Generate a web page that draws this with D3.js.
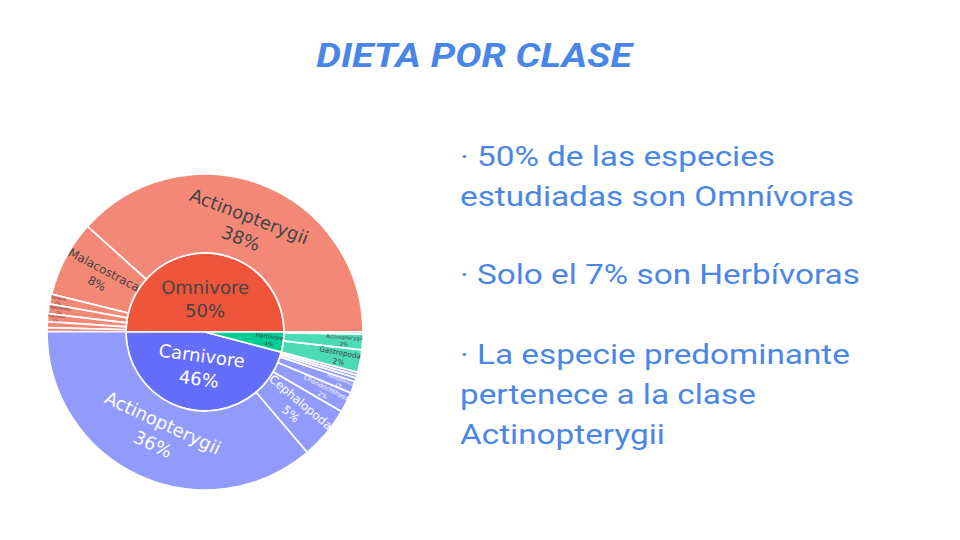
<!DOCTYPE html>
<html>
<head>
<meta charset="utf-8">
<script src="https://cdn.jsdelivr.net/npm/d3@7"></script>
<style>
  html, body { margin: 0; padding: 0; background: #fff; }
  svg { display: block; }
</style>
</head>
<body>
<svg id="chart" width="960" height="540"></svg>
<script>
// ---------- DATA ----------
const titleText = "DIETA POR CLASE";
const dietCategories = ["Omnivore", "Carnivore", "Herbivore"];
const dietColors = ["#EF553B", "#636EFA", "#00CC96"];

const omnivoreClasses = ["Actinopterygii", "Malacostraca", "Bivalvia", "Gastropoda", "Polychaeta", "Cephalopoda", "Insecta"];
const omnivoreValues  = [38.4, 7.8, 1.0, 1.0, 0.8, 0.6, 0.4];

const carnivoreClasses = ["Actinopterygii", "Cephalopoda", "Chondrichthyes", "Malacostraca", "Aves", "Mammalia", "Reptilia"];
const carnivoreValues  = [36.3, 5.4, 2.1, 1.2, 0.4, 0.3, 0.3];

const herbivoreClasses = ["Gastropoda", "Actinopterygii", "Malacostraca"];
const herbivoreValues  = [2.3, 1.6, 0.2];

const bulletLines = [
  ["· 50% de las especies", "estudiadas son Omnívoras"],
  ["· Solo el 7% son Herbívoras"],
  ["· La especie predominante", "pertenece a la clase", "Actinopterygii"]
];

// ---------- BUILD HIERARCHY ----------
const childClasses = [omnivoreClasses, carnivoreClasses, herbivoreClasses];
const childValues = [omnivoreValues, carnivoreValues, herbivoreValues];
const treeData = {
  name: "root",
  children: dietCategories.map((c, i) => ({
    name: c,
    colorIndex: i,
    children: childClasses[i].map((k, j) => ({ name: k, value: childValues[i][j] }))
  }))
};

const svg = d3.select("#chart");
const cx = 205, cy = 332;
const outerR = 158;

const root = d3.hierarchy(treeData).sum(d => d.value || 0);
const total = root.value;
d3.partition().size([1, 3])(root);

// angle: counterclockwise starting at 3 o'clock (d3 angles are clockwise from 12)
const angle = d3.scaleLinear().domain([0, 1]).range([Math.PI / 2, Math.PI / 2 - 2 * Math.PI]);
const radius = d3.scaleLinear().domain([1, 3]).range([0, outerR]);

function baseColor(d) {
  const top = d.depth === 1 ? d : d.parent;
  return dietColors[top.data.colorIndex];
}
function fillColor(d) {
  const c = d3.rgb(baseColor(d));
  if (d.depth === 1) return c.formatHex();
  const mix = v => Math.round(0.7 * v + 0.3 * 255);
  return d3.rgb(mix(c.r), mix(c.g), mix(c.b)).formatHex();
}
function textColor(d) {
  const c = d3.rgb(baseColor(d));
  const b = (c.r * 299 + c.g * 587 + c.b * 114) / 1000;
  return b >= 128 ? "#444" : "#ffffff";
}

const arc = d3.arc()
  .startAngle(d => angle(d.x0))
  .endAngle(d => angle(d.x1))
  .innerRadius(d => radius(d.y0))
  .outerRadius(d => radius(d.y1));

const nodes = root.descendants().filter(d => d.depth > 0);

const g = svg.append("g").attr("transform", `translate(${cx},${cy})`);
g.selectAll("path.sector")
  .data(nodes)
  .join("path")
  .attr("class", "sector")
  .attr("d", arc)
  .attr("fill", fillColor)
  .attr("stroke", "#ffffff")
  .attr("stroke-width", 1.7);

// ---------- LABELS (fit inside sectors) ----------
const labelFont = "DejaVu Sans";
const maxFont = 18;
const hFactor = 2.3;

const meas = svg.append("text").attr("font-family", labelFont).attr("font-size", maxFont).attr("visibility", "hidden");
function measure(str) {
  meas.text(str);
  return meas.node().getComputedTextLength();
}

function fitSize(orient, wBase, r0, r1, da) {
  function test(fs) {
    const w = wBase * fs / maxFont;
    const h = hFactor * fs;
    let along, across;
    if (orient === "tan") { along = h; across = w; } else { along = w; across = h; }
    let rcMin = r0 + along / 2;
    if (da < Math.PI) rcMin = Math.max(rcMin, along / 2 + (across / 2) / Math.tan(da / 2));
    if (r1 * r1 < (across / 2) * (across / 2)) return null;
    const rcMax = Math.sqrt(r1 * r1 - (across / 2) * (across / 2)) - along / 2;
    if (rcMin > rcMax) return null;
    return (rcMin + rcMax) / 2;
  }
  if (test(maxFont) !== null) return { fs: maxFont, rc: test(maxFont) };
  let lo = 0, hi = maxFont;
  for (let i = 0; i < 30; i++) {
    const mid = (lo + hi) / 2;
    if (test(mid) !== null) lo = mid; else hi = mid;
  }
  if (lo < 0.5) return { fs: 0, rc: 0 };
  return { fs: lo, rc: test(lo) };
}

function norm(a) {
  while (a > 90) a -= 180;
  while (a <= -90) a += 180;
  return a;
}

const labels = [];
nodes.forEach(d => {
  const pct = Math.round(d.value / total * 100) + "%";
  const lines = [d.data.name, pct];
  const wBase = Math.max(...lines.map(measure));
  const r0 = radius(d.y0), r1 = radius(d.y1);
  const a0 = angle(d.x0), a1 = angle(d.x1);
  const da = Math.abs(a1 - a0);
  const mid = (a0 + a1) / 2;
  const theta = 90 - mid * 180 / Math.PI;
  const t = fitSize("tan", wBase, r0, r1, da);
  const r = fitSize("rad", wBase, r0, r1, da);
  let best, rot;
  if (t.fs >= r.fs) { best = t; rot = norm(90 - theta); }
  else { best = r; rot = norm(-theta); }
  if (best.fs < 3) return;
  const th = theta * Math.PI / 180;
  labels.push({
    lines, fs: best.fs, rot,
    x: best.rc * Math.cos(th), y: -best.rc * Math.sin(th),
    color: textColor(d)
  });
});
meas.remove();

const lg = g.selectAll("text.lbl")
  .data(labels)
  .join("text")
  .attr("class", "lbl")
  .attr("font-family", labelFont)
  .attr("font-size", d => d.fs)
  .attr("fill", d => d.color)
  .attr("text-anchor", "middle")
  .attr("transform", d => `translate(${d.x},${d.y}) rotate(${d.rot})`);
lg.selectAll("tspan")
  .data(d => d.lines.map((l, i) => ({ l, i })))
  .join("tspan")
  .attr("x", 0)
  .attr("y", d => d.i === 0 ? "-0.3em" : "1.0em")
  .text(d => d.l);

// ---------- TITLE ----------
const stretch = 1.19;
svg.append("text")
  .attr("transform", `translate(474,67) scale(${stretch},1)`)
  .attr("text-anchor", "middle")
  .attr("font-family", "Roboto")
  .attr("font-weight", "bold")
  .attr("font-style", "italic")
  .attr("font-size", 33)
  .attr("fill", "#4a86e8")
  .text(titleText);

// ---------- BULLET TEXT ----------
const textX = 460;
const blockStarts = [166, 284, 364];
const lineGap = 40;
bulletLines.forEach((blk, bi) => {
  blk.forEach((line, li) => {
    svg.append("text")
      .attr("transform", `translate(${textX},${blockStarts[bi] + li * lineGap}) scale(${stretch},1)`)
      .attr("font-family", "Roboto")
      .attr("font-size", 28)
      .attr("fill", "#4a86e8")
      .text(line);
  });
});
</script>
</body>
</html>
